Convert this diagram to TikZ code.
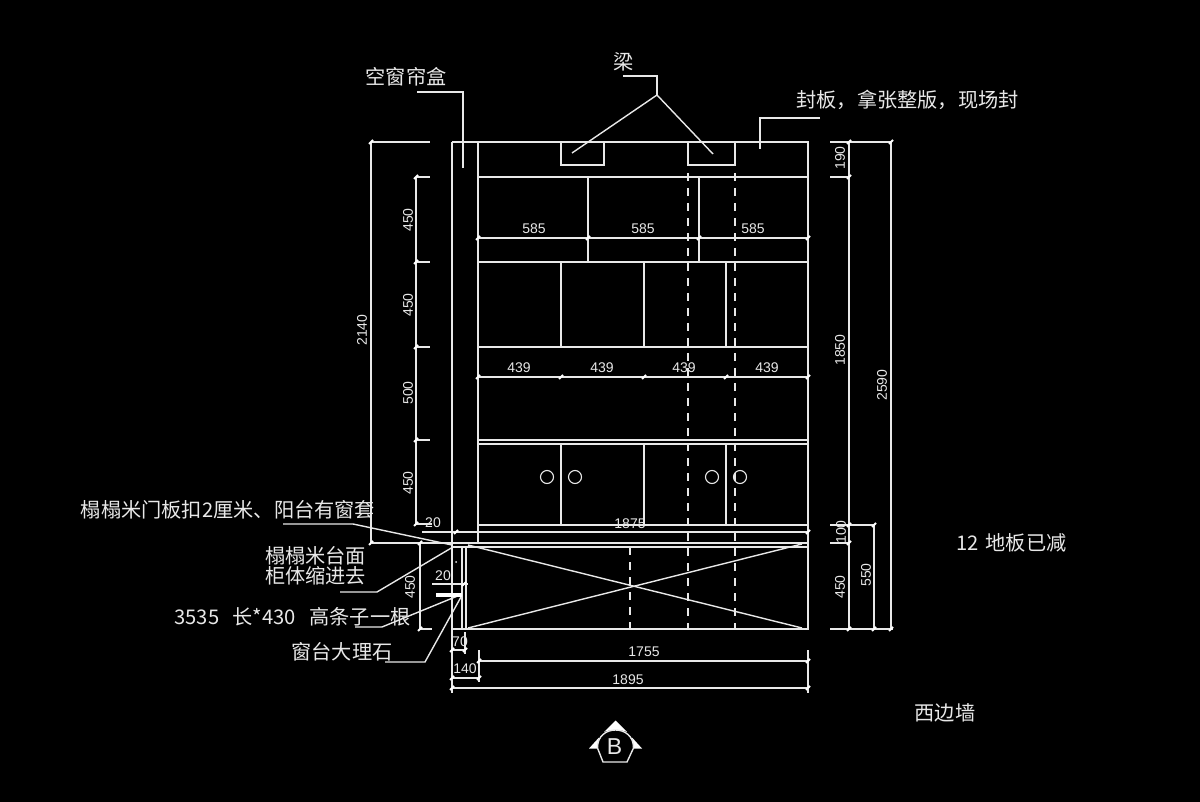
\documentclass[tikz,border=0pt]{standalone}
\usepackage{fontspec}
\setmainfont{Liberation Sans}
\newfontfamily\cjk{Noto Sans CJK SC}
\definecolor{cad}{HTML}{E8E8E8}
\tikzset{
 ln/.style={draw=cad,line width=0.7pt},
 dsh/.style={draw=cad,line width=0.8pt,dash pattern=on 4pt off 3.5pt},
 fin/.style={draw=cad,line width=0.55pt},
 cn/.style={text=cad,inner sep=0pt,font=\cjk\fontsize{10.1}{12}\selectfont},
 dm/.style={text=cad,inner sep=0pt,font=\fontsize{7}{8}\selectfont},
 dmv/.style={dm,rotate=90}
}
\newcommand{\tk}[2]{\draw[draw=white,line width=1pt] (#1-2,#2+2) -- (#1+2,#2-2);}
\begin{document}
\begin{tikzpicture}[x=0.5pt,y=-0.5pt]
\fill[black] (0,0) rectangle (1200,802);
\useasboundingbox (0,0) rectangle (1200,802);
% carcass
\draw[ln] (452,142) -- (808,142) -- (808,629) -- (452,629);
\draw[ln] (452,142) -- (452,693);
\draw[ln] (478,142) -- (478,543);
\draw[ln] (462,547) -- (462,629);
\draw[ln] (466,547) -- (466,629);
\foreach \y in {177,262,347,440,444,525} {\draw[ln] (478,\y) -- (808,\y);}
\draw[ln] (422,532) -- (808,532);
\draw[ln] (372,543) -- (808,543);
\draw[ln] (452,547) -- (808,547);
% verticals
\foreach \x in {588,699} {\draw[ln] (\x,177) -- (\x,262);}
\foreach \x in {561,644,726} {\draw[ln] (\x,262) -- (\x,347); \draw[ln] (\x,444) -- (\x,525);}
% beams
\draw[ln] (561,142) -- (561,165) -- (604,165) -- (604,142);
\draw[ln] (688,142) -- (688,165) -- (735,165) -- (735,142);
\draw[dsh] (688,173) -- (688,629);
\draw[dsh] (735,173) -- (735,629);
\draw[dsh] (630,547) -- (630,629);
% knobs
\foreach \x in {547,575,712,740} {\draw[fin] (\x,477) circle (6.5);}
\fill[cad] (456,562) circle (1);
% cross
\draw[ln] (468,545) -- (802,628);
\draw[ln] (468,628) -- (802,544);
% leaders
\draw[ln] (417,92) -- (463,92) -- (463,168);
\draw[ln] (623,76) -- (657,76) -- (657,95);
\draw[ln] (572,153) -- (657,95) -- (713,154);
\draw[ln] (820,118) -- (760,118) -- (760,149);
\draw[ln] (283,524) -- (353,524) -- (452,545);
\draw[ln] (340,592) -- (377,592) -- (453,547);
\draw[ln] (355,627) -- (382,627) -- (460,595);
\draw[ln] (385,662) -- (425,662) -- (461,597);
\draw[draw=white,line width=1.8pt] (436,595) -- (462,595);
% left dims
\draw[ln] (371,142) -- (430,142);
\draw[ln] (371,142) -- (371,543);
\draw[ln] (416,177) -- (430,177);
\draw[ln] (416,262) -- (430,262);
\draw[ln] (416,347) -- (430,347);
\draw[ln] (416,440) -- (430,440);
\draw[ln] (416,177) -- (416,524) -- (432,524);
\draw[ln] (420,543) -- (420,629);
\draw[ln] (420,629) -- (432,629);
\draw[ln] (432,584) -- (468,584);
\foreach \x/\y in {371/142,371/543,416/177,416/262,416/347,416/440,416/524,420/543,420/629,464/584,456/532} {\tk{\x}{\y}}
% top dims
\draw[ln] (478,238) -- (808,238);
\draw[ln] (478,377) -- (808,377);
\foreach \x in {478,588,699,808} {\tk{\x}{238}}
\foreach \x in {478,561,644,726,808} {\tk{\x}{377}}
\tk{808}{532}
% right dims
\draw[ln] (830,142) -- (892,142);
\draw[ln] (830,177) -- (850,177);
\draw[ln] (830,525) -- (875,525);
\draw[ln] (830,543) -- (850,543);
\draw[ln] (830,629) -- (893,629);
\draw[ln] (849,142) -- (849,629);
\draw[ln] (874,525) -- (874,629);
\draw[ln] (891,142) -- (891,629);
\foreach \x/\y in {849/142,849/177,849/525,849/543,849/629,874/525,874/629,891/142,891/629} {\tk{\x}{\y}}
% bottom dims
\draw[ln] (465,632) -- (465,654);
\draw[ln] (479,650) -- (479,682);
\draw[ln] (808,650) -- (808,693);
\draw[ln] (452,650) -- (465,650);
\draw[ln] (452,678) -- (479,678);
\draw[ln] (479,661) -- (808,661);
\draw[ln] (452,688) -- (808,688);
\foreach \x/\y in {452/650,465/650,452/678,479/678,479/661,808/661,452/688,808/688} {\tk{\x}{\y}}
% section symbol
\fill[white] (604,732) -- (615.5,720.5) -- (627,732) .. controls (619,729) and (612,729) .. cycle;
\fill[white] (589,748.5) -- (599,737.5) -- (597.5,748.5) -- cycle;
\fill[white] (642,748.5) -- (632,737.5) -- (633.5,748.5) -- cycle;
\draw[ln] (597.5,748) -- (603,762) -- (627,762) -- (633.5,748) .. controls (634,724) and (597,724) .. cycle;
\node[text=cad,inner sep=0pt,font=\fontsize{11.5}{13}\selectfont] (secB) at (614.5,747) {B};
% labels
\node[cn] (t1) at (406,77) {空窗帘盒};
\node[cn] (t2) at (624,62) {梁};
\node[cn] (t3) at (907.5,100) {封板，拿张整版，现场封};
\node[cn] (t4) at (228,510) {榻榻米门板扣2厘米、阳台有窗套};
\node[cn] (t5) at (315.5,556) {榻榻米台面};
\node[cn] (t6) at (315.5,576) {柜体缩进去};
\node[cn] (t7) at (292.5,617) {3535\,\,\,\,长*430\,\,\,\,高条子一根};
\node[cn] (t8) at (342,652) {窗台大理石};
\node[cn] (t9) at (1011.5,543) {12\,\,地板已减};
\node[cn] (t10) at (945,713) {西边墙};
% dim text
\foreach \x in {534,643,753} {\node[dm] at (\x,229) {585};}
\foreach \x in {519,602,684,767} {\node[dm] at (\x,368) {439};}
\node[dm] (d1875) at (630,524) {1875};
\node[dm] (d20a) at (433,523) {20};
\node[dm] (d20b) at (443,576) {20};
\node[dm] (d70) at (460,642) {70};
\node[dm] (d140) at (465,669) {140};
\node[dm] (d1755) at (644,652) {1755};
\node[dm] (d1895) at (628,680) {1895};
\node[dmv] at (408,220) {450};
\node[dmv] at (408,305) {450};
\node[dmv] at (408,393) {500};
\node[dmv] at (408,483) {450};
\node[dmv] at (362,330) {2140};
\node[dmv] at (410,587) {450};
\node[dmv] at (840,158) {190};
\node[dmv] at (840,350) {1850};
\node[dmv] at (841,532) {100};
\node[dmv] at (840,587) {450};
\node[dmv] at (866,575) {550};
\node[dmv] at (882,385) {2590};
\end{tikzpicture}
\end{document}
